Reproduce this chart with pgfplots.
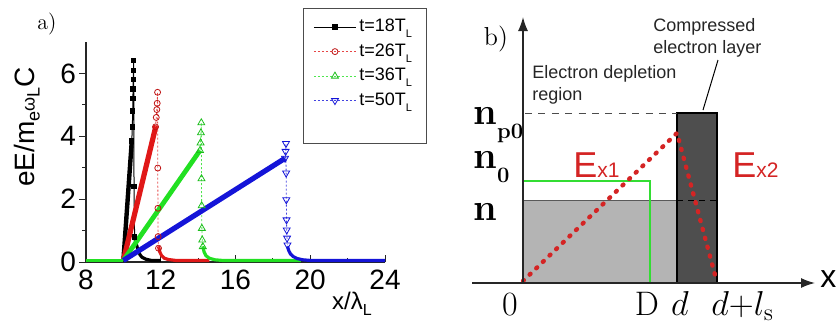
\documentclass[border=0pt]{standalone}
\usepackage{fontspec}
\usepackage{pgfplots}
\pgfplotsset{compat=1.18}
\usetikzlibrary{arrows.meta}
\newfontfamily\sans{Liberation Sans}

\definecolor{cRed}{HTML}{E01818}
\definecolor{cGreen}{HTML}{22E022}
\definecolor{cBlue}{HTML}{1414D8}
\definecolor{lgray}{HTML}{B4B4B4}
\definecolor{dgray}{HTML}{4E4E4E}
\definecolor{eRed}{HTML}{D42424}
\definecolor{nGreen}{HTML}{33DD33}

\newcommand{\subL}{\raisebox{-3pt}{\fontsize{5.5}{5.5}\selectfont L}}

\begin{document}
\begin{tikzpicture}
\useasboundingbox (0,0) rectangle (420pt,164.5pt);

% ---------------- a) field profiles ----------------
\begin{axis}[
  at={(43pt,33.5pt)}, anchor=south west,
  width=149.5pt, height=110pt, scale only axis,
  xmin=8, xmax=24, ymin=0, ymax=7,
  axis lines*=left,
  axis line style={line width=0.6pt, black!85, -},
  xtick={8,12,16,20,24}, minor xtick={10,14,18,22},
  ytick={0,2,4,6}, minor ytick={1,3,5},
  xtick align=inside, ytick align=outside,
  major tick length=3.5pt, minor tick length=2pt,
  tick style={black!85, line width=0.5pt},
  ticklabel style={font=\sans\fontsize{14}{14}\selectfont},
  xticklabel style={yshift=-0.5pt},
  yticklabel style={xshift=2pt},
  /pgf/number format/assume math mode=true,
  clip=false,
  legend cell align=left,
  legend style={at={(0.7256,1.153)}, anchor=north west,
    draw=black!70, line width=0.5pt, inner xsep=5pt, inner ysep=3pt,
    font=\sans\fontsize{9}{9}\selectfont,
    nodes={inner sep=1.5pt, text height=7pt, text depth=2.25pt},
    row sep=0pt},
  legend image code/.code={\draw[mark repeat=2,mark phase=2,#1]
    plot coordinates {(0pt,0pt) (10.5pt,0pt) (21pt,0pt)};},
]
% t = 18 T_L
\addplot[black, line width=1.2pt, forget plot] coordinates {(8,0.05) (10,0.05)};
\addplot[black, line width=2.2pt, forget plot] coordinates {(10,0.05) (10.45,3.85)};
\addplot[black, line width=1.6pt, forget plot] coordinates {(10.6,0.8) (10.7,0.55) (10.8,0.35) (10.9,0.22) (11.0,0.15) (11.2,0.09) (11.5,0.05) (12,0.05)};
\addplot[black, line width=0.5pt, mark=square*, mark size=1.1pt] coordinates {
  (10.45,3.85) (10.48,4.3) (10.5,4.8) (10.51,5.2) (10.52,5.5) (10.53,5.8) (10.54,6.1) (10.55,6.42) (10.57,2.4) (10.6,0.8)};
\addlegendentry{\makebox[27pt][l]{t=18T\subL}}

% t = 26 T_L
\addplot[cRed, line width=1.2pt, forget plot] coordinates {(8,0.05) (10,0.05)};
\addplot[cRed, line width=2.6pt, forget plot] coordinates {(10,0.05) (11.75,4.35)};
\addplot[cRed, line width=1.6pt, forget plot] coordinates {(11.88,0.5) (11.95,0.32) (12.05,0.2) (12.2,0.12) (12.4,0.08) (12.8,0.05) (14.6,0.05)};
\addplot[cRed!80, line width=0.4pt, dash pattern=on 1pt off 1pt, mark=o, mark size=1.5pt, mark options={solid, cRed!85!black}] coordinates {
  (11.72,4.3) (11.76,4.6) (11.79,4.85) (11.81,5.05) (11.83,5.4) (11.84,2.99) (11.85,1.71) (11.86,0.81) (11.88,0.44)};
\addlegendentry{\makebox[27pt][l]{t=26T\subL}}

% t = 36 T_L
\addplot[cGreen, line width=1.2pt, forget plot] coordinates {(8,0.05) (10,0.05)};
\addplot[cGreen, line width=2.4pt, forget plot] coordinates {(10,0.05) (14.1,3.55)};
\addplot[cGreen, line width=1.6pt, forget plot] coordinates {(14.25,0.5) (14.32,0.32) (14.42,0.2) (14.6,0.12) (14.9,0.07) (15.3,0.05) (19.5,0.05)};
\addplot[cGreen!80, line width=0.4pt, dash pattern=on 1pt off 1pt, mark=triangle, mark size=2pt, mark options={solid, cGreen!85!black}] coordinates {
  (14.1,3.55) (14.13,3.79) (14.15,4.11) (14.17,4.43) (14.18,2.65) (14.19,1.79) (14.2,1.07) (14.22,0.70) (14.25,0.49)};
\addlegendentry{\makebox[27pt][l]{t=36T\subL}}

% t = 50 T_L
\addplot[cBlue, line width=2.6pt, forget plot] coordinates {(10,0.05) (18.65,3.3)};
\addplot[cBlue, line width=1.6pt, forget plot] coordinates {(18.78,0.5) (18.85,0.36) (18.95,0.25) (19.1,0.17) (19.3,0.11) (19.6,0.07) (20,0.05) (24,0.05)};
\addplot[cBlue!80, line width=0.4pt, dash pattern=on 1pt off 1pt, mark=triangle, mark size=2pt, mark options={solid, rotate=180, cBlue}] coordinates {
  (18.65,3.3) (18.68,3.52) (18.7,3.77) (18.71,2.83) (18.72,1.98) (18.73,1.34) (18.74,1.02) (18.76,0.76) (18.78,0.54)};
\addlegendentry{\makebox[27pt][l]{t=50T\subL}}
\addlegendimage{empty legend}
\addlegendentry{}

\node[font=\fontsize{11}{11}\selectfont] at (axis cs:5.91,7.56) {a)};
\node[rotate=90, font=\sans\fontsize{14}{14}\selectfont] at (axis cs:4.85,4.3)
  {eE/m\raisebox{-2.5pt}{\fontsize{9}{9}\selectfont e}{\fontsize{9}{9}\selectfont ω}\raisebox{-2.5pt}{\fontsize{9}{9}\selectfont L}C};
\node[font=\sans\fontsize{12}{12}\selectfont] at (axis cs:22.23,-1.34)
  {x/λ\raisebox{-3pt}{\fontsize{8}{8}\selectfont L}};
\end{axis}

% ---------------- b) density sketch ----------------
\begin{axis}[
  at={(236pt,23pt)}, anchor=south west,
  width=171.5pt, height=133pt, scale only axis,
  xmin=-51, xmax=292, ymin=0, ymax=266,
  axis lines=middle, axis on top,
  axis line style={line width=0.7pt, black!85, -{Latex[length=7pt,width=5pt]}},
  xtick=\empty, ytick=\empty,
  clip=false,
]
% ion background up to the compressed layer
\addplot[fill=lgray, draw=none] coordinates {(0,0) (0,83) (154,83) (154,0)} -- cycle;
\addplot[black!65, line width=0.5pt] coordinates {(0,83) (154,83)};
% compressed electron layer
\addplot[fill=dgray, draw=black, line width=0.6pt] coordinates {(154,0) (154,170) (194,170) (194,0)} -- cycle;
\addplot[black, line width=0.5pt, dash pattern=on 3pt off 2.5pt] coordinates {(154,83) (194,83)};
% peak density level
\addplot[black!70, line width=0.5pt, dash pattern=on 3.5pt off 3.2pt] coordinates {(2,170) (154,170)};
% initial plasma density
\addplot[nGreen, line width=1.4pt] coordinates {(0,102) (127,102) (127,0)};
% electric field profiles
\addplot[eRed, line width=2.2pt, line cap=round, dash pattern=on 0.6pt off 4pt] coordinates {(0,2) (154,150) (192,8)};
% leader for the layer caption
\addplot[black, line width=0.5pt] coordinates {(195,223) (180,173)};

\node[font=\fontsize{13}{13}\selectfont] at (axis cs:-27,244) {b)};
\node[anchor=north west, align=left, inner sep=0pt, text=black!85, font=\sans\fontsize{9}{11}\selectfont] at (axis cs:9,218) {Electron depletion\\region};
\node[anchor=north west, align=left, inner sep=0pt, text=black!85, font=\sans\fontsize{9}{11}\selectfont] at (axis cs:130,265) {Compressed\\electron layer};

\node[anchor=base west, inner sep=0pt] at (axis cs:-50,159) {\fontsize{19}{19}\selectfont\bfseries n\raisebox{-7pt}{\fontsize{11}{11}\selectfont p0}};
\node[anchor=base west, inner sep=0pt] at (axis cs:-50,115) {\fontsize{19}{19}\selectfont\bfseries n\raisebox{-7pt}{\fontsize{11}{11}\selectfont 0}};
\node[anchor=base west, inner sep=0pt] at (axis cs:-50,63) {\fontsize{19}{19}\selectfont\bfseries n};

\node[anchor=base, inner sep=0pt, font=\fontsize{17}{17}\selectfont] at (axis cs:-13,-32) {0};
\node[anchor=base, inner sep=0pt, font=\fontsize{17}{17}\selectfont] at (axis cs:124,-32) {D};
\node[anchor=base, inner sep=0pt, font=\fontsize{17}{17}\selectfont] at (axis cs:157,-32) {$d$};
\node[anchor=base west, inner sep=0pt, font=\fontsize{17}{17}\selectfont] at (axis cs:188,-32) {$d{+}l_{\mathrm{s}}$};

\node[anchor=base west, inner sep=0pt, text=eRed] at (axis cs:50,106) {\sans\fontsize{18}{18}\selectfont E\fontsize{10.5}{10.5}\selectfont x1};
\node[anchor=base west, inner sep=0pt, text=eRed] at (axis cs:209,106) {\sans\fontsize{18}{18}\selectfont E\fontsize{10.5}{10.5}\selectfont x2};
\node[anchor=west, inner sep=0pt, font=\sans\fontsize{16}{16}\selectfont] at (axis cs:297,4) {x};
\end{axis}
\end{tikzpicture}
\end{document}
